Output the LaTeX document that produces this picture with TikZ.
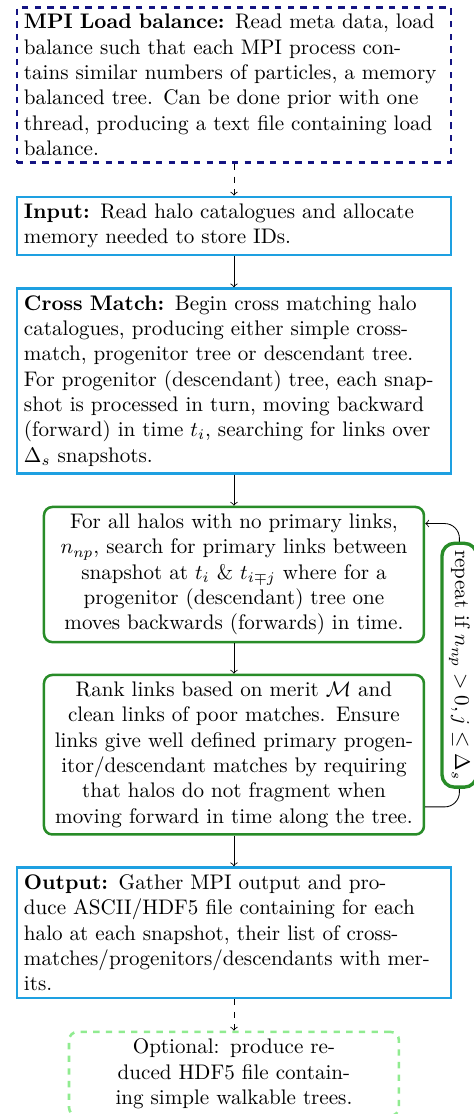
\documentclass[tikz,border=0pt]{standalone}
\usepackage{amsmath}
\usepackage{amssymb}
\usepackage[x11names, rgb]{xcolor}
\usepackage{tikz}
\usetikzlibrary{arrows,shapes,positioning}

\definecolor{stepblue}{RGB}{30,160,225}
\definecolor{loopgreen}{RGB}{40,140,40}
\definecolor{optgreen}{RGB}{144,235,144}
\definecolor{mpinavy}{RGB}{20,20,130}

\begin{document}
\begin{tikzpicture}[
	mainbox/.style={draw=stepblue, very thick, text width=7cm, align=left, anchor=north},
	loopbox/.style={draw=loopgreen, very thick, rounded corners, text width=6.1cm, align=center, anchor=north},
	repeatbox/.style={draw=loopgreen, line width=1.6pt, rounded corners=6pt, fill=white, rotate=-90},
]
	\useasboundingbox (0cm,0cm) rectangle (7.9cm,-18.57cm);

	\node[mainbox, draw=mpinavy, dashed] (mpi) at (3.9cm,-0.1cm) {\textbf{MPI Load balance:} Read meta data, load balance such that each MPI process contains similar numbers of particles, a memory balanced tree. Can be done prior with one thread, producing a text file containing load balance.};

	\node[mainbox] (input) at (3.9cm,-3.26cm) {\textbf{Input:} Read halo catalogues and allocate memory needed to store IDs.};

	\node[mainbox] (cross) at (3.9cm,-4.79cm) {\textbf{Cross Match:} Begin cross matching halo catalogues, producing either simple cross-match, progenitor tree or descendant tree. For progenitor (descendant) tree, each snapshot is processed in turn, moving backward (forward) in time $t_i$, searching for links over $\Delta_s$ snapshots.};

	\node[loopbox] (search) at (3.9cm,-8.43cm) {For all halos with no primary links, $n_{np}$, search for primary links between snapshot at $t_i$ \& $t_{i\mp j}$ where for a progenitor (descendant) tree one moves backwards (forwards) in time.};

	\node[loopbox] (rank) at (3.9cm,-11.23cm) {Rank links based on merit $\mathcal{M}$ and clean links of poor matches. Ensure links give well defined primary progenitor/descendant matches by requiring that halos do not fragment when moving forward in time along the tree.};

	\node[mainbox] (output) at (3.9cm,-14.44cm) {\textbf{Output:} Gather MPI output and produce ASCII/HDF5 file containing for each halo at each snapshot, their list of cross-matches/progenitors/descendants with merits.};

	\node[draw=optgreen, very thick, dashed, rounded corners, text width=4.1cm, minimum width=5.5cm, align=center, anchor=north] (optional) at (3.9cm,-17.18cm) {Optional: produce reduced HDF5 file containing simple walkable trees.};

	\draw[->, dashed] (mpi) -- (input);
	\draw[->] (input) -- (cross);
	\draw[->] (cross) -- (search);
	\draw[->] (search) -- (rank);
	\draw[->] (rank) -- (output);
	\draw[->, dashed] (output) -- (optional);

	% loop back while links are still missing
	\draw[->, rounded corners=7pt] ([yshift=-0.87cm]rank.east) -| node[repeatbox, pos=0.75] {repeat if $n_{np} > 0, j \leq \Delta_s$} ([xshift=0.57cm, yshift=0.85cm]search.east) -- ([yshift=0.85cm]search.east);
\end{tikzpicture}
\end{document}
